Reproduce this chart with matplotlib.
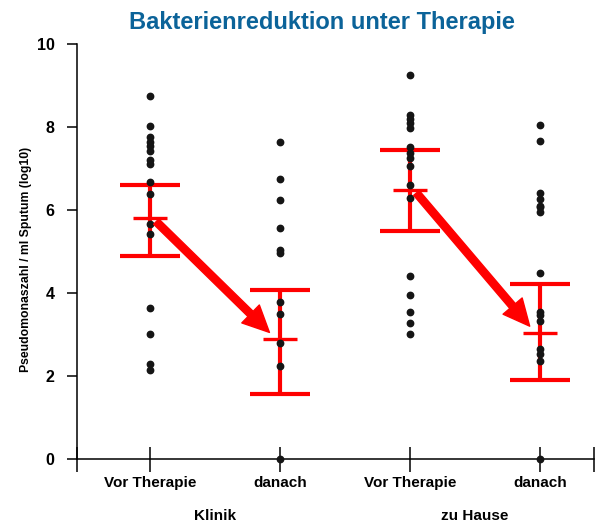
import numpy as np
import matplotlib.pyplot as plt

plt.rcParams['font.family'] = ['Liberation Sans', 'DejaVu Sans']

# data (log10 Pseudomonas / ml sputum)
categories = ['Vor Therapie', 'danach', 'Vor Therapie', 'danach']
groups = ['Klinik', 'zu Hause']
klinik_vor = [8.75, 8.03, 7.75, 7.65, 7.54, 7.43, 7.20, 7.11, 6.67, 6.39,
              5.66, 5.41, 3.65, 3.01, 2.28, 2.14]
klinik_nach = [7.65, 6.75, 6.25, 5.57, 5.04, 4.97, 3.78, 3.50, 2.80, 2.24, 0.0]
hause_vor = [9.26, 8.29, 8.19, 8.09, 7.97, 7.51, 7.37, 7.25, 7.06, 6.59,
             6.28, 4.41, 3.95, 3.53, 3.27, 3.00]
hause_nach = [8.04, 7.66, 6.40, 6.26, 6.10, 6.06, 5.94, 4.49, 3.53, 3.47,
              3.33, 2.64, 2.52, 2.37, 0.0]
means = [5.80, 2.88, 6.49, 3.03]
upper = [6.60, 4.07, 7.45, 4.22]
lower = [4.90, 1.57, 5.49, 1.90]

series = [klinik_vor, klinik_nach, hause_vor, hause_nach]
pos = np.arange(1, 5)

fig = plt.figure(figsize=(6.05, 5.26), dpi=100)
ax = fig.add_axes([0.127, 0.1274, 0.855, 0.789])

for p, vals in zip(pos, series):
    ax.plot([p] * len(vals), vals, 'o', color='#151515', markersize=4.6,
            clip_on=False, zorder=4)

means = np.array(means)
yerr = [means - np.array(lower), np.array(upper) - means]
ax.errorbar(pos, means, yerr=yerr, fmt='none', ecolor='#ff0000',
            elinewidth=3, capsize=21.5, capthick=3, zorder=3)
ax.plot(pos, means, '_', color='#ff0000', markersize=24.5,
        markeredgewidth=2.4, zorder=3)

# arrows from "vor" mean to "danach" mean
for i in (0, 2):
    ax.annotate('', xy=(pos[i + 1] - 0.08, means[i + 1] + 0.17),
                xytext=(pos[i] + 0.05, means[i] - 0.08),
                arrowprops=dict(arrowstyle='simple,head_length=1.0,head_width=0.95,tail_width=0.28',
                                color='#ff0000', mutation_scale=19, shrinkA=0, shrinkB=0),
                zorder=5)

ax.set_xlim(0.44, 4.415)
ax.set_ylim(0, 10)
ax.spines['top'].set_visible(False)
ax.spines['right'].set_visible(False)
for s in ('left', 'bottom'):
    ax.spines[s].set_linewidth(1.1)

ax.set_xticks([0.44, 1, 2, 3, 4, 4.415])
ax.set_xticklabels([''] + categories + [''], fontsize=11, fontweight='bold')
ax.tick_params(axis='x', direction='inout', length=18, width=1.1, pad=3)
ax.set_yticks([0, 2, 4, 6, 8, 10])
ax.set_yticklabels(['0', '2', '4', '6', '8', '10'], fontsize=11.5, fontweight='bold')
ax.tick_params(axis='y', direction='out', length=7, width=1.1, pad=9)

for j, g in enumerate(groups):
    ax.text(1.5 + 2 * j, -1.38, g, ha='center', va='center', fontsize=11,
            fontweight='bold')

ax.set_ylabel('Pseudomonaszahl / ml Sputum (log10)', fontsize=8.8,
              fontweight='bold')
ax.yaxis.set_label_coords(-0.087, 0.48)

fig.text(0.532, 0.958, 'Bakterienreduktion unter Therapie', ha='center',
         va='center', fontsize=17, fontweight='bold', color='#0b6399')

fig.savefig('out.png', dpi=100)
